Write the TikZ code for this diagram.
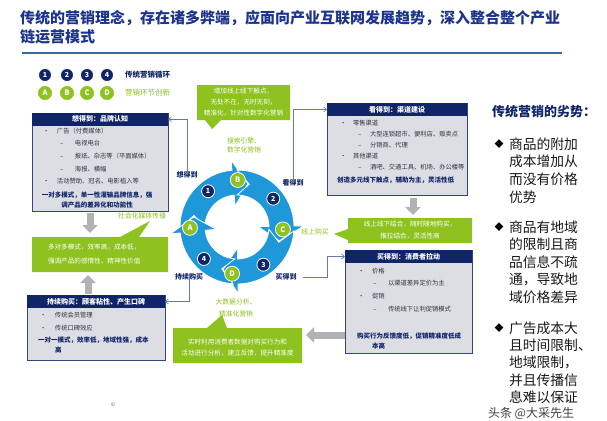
\documentclass[tikz,border=0pt]{standalone}
\usepackage{fontspec}
\setmainfont{Noto Sans CJK SC}
\usetikzlibrary{arrows.meta}
\definecolor{navy}{RGB}{16,36,104}
\definecolor{ttl}{RGB}{28,52,140}
\definecolor{rul}{RGB}{58,104,160}
\definecolor{lgreen}{RGB}{141,194,31}
\definecolor{ringb}{RGB}{30,152,216}
\definecolor{boxg}{RGB}{221,222,228}
\definecolor{garr}{RGB}{178,178,182}
\definecolor{conn}{RGB}{105,120,165}
\definecolor{bodyt}{RGB}{50,50,62}
\begin{document}
\begin{tikzpicture}[x=1pt,y=-1pt,
  every node/.style={inner sep=0pt, outer sep=0pt},
  bodybox/.style={draw=navy!85, line width=0.6pt, fill=boxg},
  hdrbox/.style={fill=navy, text=white, font=\bfseries\fontsize{7}{7}\selectfont, anchor=north},
  bt/.style={anchor=west, text=bodyt, font=\fontsize{6.3}{7}\selectfont},
  st/.style={anchor=west, text=navy, font=\bfseries\fontsize{6.5}{7}\selectfont},
  stc/.style={text=navy, font=\bfseries\fontsize{6.5}{7}\selectfont},
  gl/.style={text=lgreen, font=\fontsize{6.8}{7}\selectfont},
  nl/.style={text=navy, font=\bfseries\fontsize{7}{7}\selectfont},
  wt/.style={text=white, font=\fontsize{6.6}{7}\selectfont},
  garrow/.style={draw=garr, line width=7pt, -{Triangle[width=15pt,length=8pt]}},
  connarrow/.style={draw=conn, line width=0.6pt, -{Straight Barb[length=3pt,width=5pt]}},
  numc/.style={circle, fill=navy, draw=white, line width=0.8pt, minimum size=13pt, text=white, font=\bfseries\fontsize{7}{7}\selectfont},
  letc/.style={circle, fill=lgreen, draw=white, line width=0.8pt, minimum size=15pt, text=white, font=\bfseries\fontsize{7.5}{7.5}\selectfont},
  rt/.style={anchor=west, text=black!90, font=\fontsize{13.8}{14}\selectfont}
]
\fill[white] (0,0) rectangle (607,420);
\useasboundingbox (0,0) rectangle (607,420);

% title
\node[anchor=west, text=ttl, font=\bfseries\fontsize{15}{15}\selectfont] (t1) at (20,18) {传统的营销理念，存在诸多弊端，应面向产业互联网发展趋势，深入整合整个产业};
\node[anchor=west, text=ttl, font=\bfseries\fontsize{15}{15}\selectfont] (t2) at (20,37) {链运营模式};
\draw[rul, line width=2.2pt] (22,53) -- (562,53);

% legend
\foreach \x/\t [count=\i] in {45/1,67/2,87/3,107/4}
  \node[numc] (lg\i) at (\x,75) {\t};
\foreach \x/\t [count=\i] in {45/A,67/B,87/C,107/D}
  \node[letc] (lh\i) at (\x,93) {\t};
\node[anchor=west, text=navy, font=\bfseries\fontsize{7.5}{7.5}\selectfont] (lgt1) at (125,75) {传统营销循环};
\node[anchor=west, text=lgreen, font=\fontsize{7.5}{7.5}\selectfont] (lgt2) at (125,93) {营销环节创新};

% box 1: 想得到
\node[bodybox, minimum width=136pt, minimum height=98pt] (box1) at (100,162) {};
\node[hdrbox, minimum width=136pt, minimum height=12.5pt] (hdr1) at (box1.north) {想得到：品牌认知};
\node[bt] (b1a) at (43,131) {\makebox[14pt][l]{•}广告（付费媒体）};
\node[bt] (b1b) at (60,143.5) {\makebox[15pt][l]{–}电视电台};
\node[bt] (b1c) at (60,156) {\makebox[15pt][l]{–}报纸、杂志等（平面媒体）};
\node[bt] (b1d) at (60,169) {\makebox[15pt][l]{–}海报、横幅};
\node[bt] (b1e) at (43,181.5) {\makebox[14pt][l]{•}活动赞助、冠名、电影植入等};
\node[stc] (b1f) at (97,195) {一对多模式，单一性灌输品牌信息，强};
\node[stc] (b1g) at (97,205) {调产品的差异化和功能性};

% box 2: 看得到
\node[bodybox, minimum width=140pt, minimum height=92pt] (box2) at (397,149) {};
\node[hdrbox, minimum width=140pt, minimum height=13pt] (hdr2) at (box2.north) {看得到：渠道建设};
\node[bt] (b2a) at (340,123) {\makebox[13pt][l]{•}零售渠道};
\node[bt] (b2b) at (358,134) {\makebox[12pt][l]{–}大型连锁超市、便利店、贩卖点};
\node[bt] (b2c) at (358,145) {\makebox[12pt][l]{–}分销商、代理};
\node[bt] (b2d) at (340,156) {\makebox[13pt][l]{•}其他渠道};
\node[bt] (b2e) at (358,167) {\makebox[12pt][l]{–}酒吧、交通工具、机场、办公楼等};
\node[st] (b2f) at (337,180) {创造多元线下触点，辅助为主，灵活性低};

% box 3: 买得到
\node[bodybox, minimum width=127pt, minimum height=103pt] (box3) at (408.5,301.5) {};
\node[hdrbox, minimum width=127pt, minimum height=13pt] (hdr3) at (box3.north) {买得到：消费者拉动};
\node[bt] (b3a) at (358,271) {\makebox[14pt][l]{•}价格};
\node[bt] (b3b) at (373,283) {\makebox[15pt][l]{–}以渠道差异定价为主};
\node[bt] (b3c) at (358,296) {\makebox[14pt][l]{•}促销};
\node[bt] (b3d) at (373,309) {\makebox[15pt][l]{–}传统线下让利促销模式};
\node[st] (b3e) at (357,336) {购买行为反馈度低，促销精准度低成};
\node[st] (b3f) at (372,345.5) {本高};

% box 4: 持续购买
\node[bodybox, minimum width=138pt, minimum height=65pt] (box4) at (96,327.5) {};
\node[hdrbox, minimum width=138pt, minimum height=13pt] (hdr4) at (box4.north) {持续购买：顾客粘性、产生口碑};
\node[bt] (b4a) at (40,315) {\makebox[15pt][l]{•}传统会员管理};
\node[bt] (b4b) at (40,328) {\makebox[15pt][l]{•}传统口碑效应};
\node[st] (b4c) at (38,340) {一对一模式，效率低，地域性强，成本};
\node[st] (b4d) at (55,350) {高};

% green callouts
\fill[lgreen] (197,85) -- (290,85) -- (290,120) -- (221,120) -- (212,129) -- (205,120) -- (197,120) -- cycle;
\node[wt] (g1a) at (243.5,91.5) {增加线上线下触点，};
\node[wt] (g1b) at (243.5,102.5) {无处不在，无时无刻，};
\node[wt] (g1c) at (243.5,113.5) {精准化，针对性数字化营销};

\fill[lgreen] (32,237) -- (120,237) -- (150,221) -- (139,237) -- (168,237) -- (168,272) -- (32,272) -- cycle;
\node[wt, anchor=west] (g2a) at (48,247.5) {多对多模式，效率高，成本低，};
\node[wt, anchor=west] (g2b) at (48,261) {强调产品的感情性、精神性价值};

\fill[lgreen] (348,218) -- (472,218) -- (472,243) -- (348,243) -- (348,240) -- (334,234) -- (348,229) -- cycle;
\node[wt] (g3a) at (410,224.5) {线上线下结合，随时随地购买，};
\node[wt] (g3b) at (410,236) {推拉结合，灵活性高};

\fill[lgreen] (173,328) -- (207,328) -- (222,315) -- (227,328) -- (302,328) -- (302,363) -- (173,363) -- cycle;
\node[wt] (g4a) at (237.5,342) {实时利用消费者数据对购买行为和};
\node[wt] (g4b) at (237.5,353) {活动进行分析，建立反馈，提升精准度};

% green labels
\node[gl] (gl1) at (244,140.5) {搜索引擎、};
\node[gl] (gl2) at (244,150) {数字化营销};
\node[gl] (gl3) at (142,216) {社会化媒体传播};
\node[gl] (gl4) at (315,232) {线上购买};
\node[gl] (gl5) at (236,302) {大数据分析、};
\node[gl] (gl6) at (236,314) {精准化营销};

% ring
\begin{scope}[shift={(237,227)}]
 \foreach \b/\n in {181/90, 90/-4, -4/-94, -94/-179} {
   \fill[ringb, draw=white, line width=0.8pt] (\b:57pt) arc[start angle=\b, end angle=\n+5, radius=57pt]
     -- (\n+5:67pt) -- (\n-14:44.5pt) -- (\n+5:21pt) -- (\n+5:32pt)
     arc[start angle=\n+5, end angle=\b, radius=32pt] -- (\b-16:44.5pt) -- cycle;
 }
 \node[numc] (n1) at (129:46pt) {1};
 \node[numc] (n2) at (38:46pt) {2};
 \node[numc] (n3) at (-55:46pt) {3};
 \node[numc] (n4) at (-136:46pt) {4};
 \node[letc] (lA) at (181:47pt) {A};
 \node[letc] (lB) at (89:47pt) {B};
 \node[letc] (lC) at (-3:46pt) {C};
 \node[letc] (lD) at (-96:47pt) {D};
\end{scope}

% stage labels
\node[nl] (lbA) at (187,175) {想得到};
\node[nl] (lbB) at (293,183) {看得到};
\node[nl] (lbC) at (286,277) {买得到};
\node[nl] (lbD) at (189,277) {持续购买};

% connectors
\draw[connarrow] ([yshift=-3pt]lbA.north) |- (hdr1.east);
\draw[connarrow] ([yshift=-3pt]lbB.north) |- (hdr2.west);
\coordinate (cC) at (327,277);
\draw[connarrow] ([xshift=6pt]lbC.east) -- (cC) |- (hdr3.west);
\draw[connarrow] ([yshift=4pt]lbD.south) |- (hdr4.east);

% gray block arrows
\coordinate (ga1s) at (90,213); \coordinate (ga1e) at (90,233);
\coordinate (ga2s) at (88,294); \coordinate (ga2e) at (88,275);
\coordinate (ga3s) at (413,198); \coordinate (ga3e) at (413,215);
\coordinate (ga4s) at (345,335); \coordinate (ga4e) at (306,335);
\draw[garrow] (ga1s) -- (ga1e);
\draw[garrow] (ga2s) -- (ga2e);
\draw[garrow] (ga3s) -- (ga3e);
\draw[garrow] (ga4s) -- (ga4e);

% right panel
\node[anchor=west, text=navy, font=\bfseries\fontsize{13}{13}\selectfont] (rh) at (492,112) {传统营销的劣势：};
\node[text=black, font=\fontsize{9}{9}\selectfont] (d1) at (499,144) {◆};
\node[text=black, font=\fontsize{9}{9}\selectfont] (d2) at (499,227) {◆};
\node[text=black, font=\fontsize{9}{9}\selectfont] (d3) at (499,328) {◆};
\foreach \t [count=\i] in {商品的附加,成本增加从,而没有价格,优势}
  \node[rt] (ra\i) at (509,144+17.7*\i-17.7) {\t};
\foreach \t [count=\i] in {商品有地域,的限制且商,品信息不疏,通，导致地,域价格差异}
  \node[rt] (rb\i) at (509,227+17.6*\i-17.6) {\t};
\foreach \t [count=\i] in {广告成本大,且时间限制、,地域限制，,并且传播信,息难以保证}
  \node[rt] (rc\i) at (509,328+17.4*\i-17.4) {\t};

% watermark and mark
\node[anchor=west, text=black!75, font=\fontsize{12}{12}\selectfont] (wm) at (488,413) {头条 @大采先生};
\node[text=black!60, font=\fontsize{5}{5}\selectfont] (cp) at (113,405) {©};
\end{tikzpicture}
\end{document}
